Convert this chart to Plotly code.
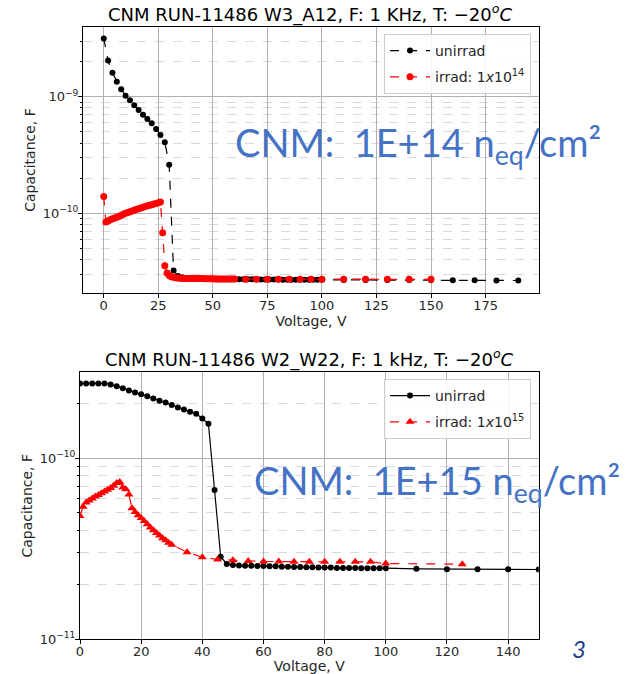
import plotly.graph_objects as go

# ---------------- data: top panel (W3_A12, 1e14) ----------------
top_unirr_v = list(range(0, 101, 2)) + list(range(110, 191, 10))
top_unirr_c = [3.16e-9, 2.04e-9, 1.60e-9, 1.34e-9, 1.16e-9, 1.02e-9, 9.3e-10, 8.43e-10,
               7.69e-10, 7.01e-10, 6.44e-10, 5.91e-10, 5.28e-10, 4.69e-10, 4.06e-10, 2.60e-10,
               3.23e-11, 2.90e-11, 2.82e-11, 2.79e-11, 2.77e-11, 2.76e-11, 2.75e-11, 2.74e-11,
               2.74e-11, 2.73e-11, 2.72e-11, 2.72e-11, 2.72e-11, 2.72e-11, 2.72e-11, 2.71e-11,
               2.71e-11, 2.71e-11, 2.71e-11, 2.71e-11, 2.70e-11, 2.70e-11, 2.70e-11, 2.70e-11,
               2.70e-11, 2.69e-11, 2.69e-11, 2.69e-11, 2.69e-11, 2.69e-11, 2.69e-11, 2.69e-11,
               2.69e-11, 2.69e-11, 2.69e-11,
               2.68e-11, 2.68e-11, 2.67e-11, 2.67e-11, 2.67e-11, 2.66e-11, 2.66e-11, 2.65e-11,
               2.65e-11]

top_irr_v = list(range(0, 61)) + list(range(65, 101, 5)) + list(range(110, 151, 10))
top_irr_c = [1.39e-10, 8.4e-11, 8.6e-11, 8.8e-11, 8.95e-11, 9.1e-11, 9.25e-11, 9.4e-11,
             9.6e-11, 9.8e-11, 1.0e-10, 1.015e-10, 1.03e-10, 1.045e-10, 1.06e-10, 1.08e-10,
             1.095e-10, 1.11e-10, 1.125e-10, 1.14e-10, 1.16e-10, 1.17e-10, 1.185e-10, 1.2e-10,
             1.215e-10, 1.23e-10, 1.25e-10, 6.8e-11, 3.55e-11, 3.08e-11, 2.93e-11, 2.86e-11,
             2.82e-11, 2.80e-11, 2.78e-11, 2.77e-11, 2.76e-11, 2.76e-11, 2.76e-11, 2.76e-11,
             2.76e-11, 2.75e-11, 2.75e-11, 2.75e-11, 2.75e-11, 2.75e-11, 2.74e-11, 2.74e-11,
             2.74e-11, 2.74e-11, 2.74e-11, 2.73e-11, 2.73e-11, 2.73e-11, 2.73e-11, 2.73e-11,
             2.73e-11, 2.73e-11, 2.73e-11, 2.73e-11, 2.73e-11,
             2.72e-11, 2.72e-11, 2.72e-11, 2.72e-11, 2.72e-11, 2.72e-11, 2.72e-11, 2.72e-11,
             2.71e-11, 2.71e-11, 2.71e-11, 2.71e-11, 2.71e-11]

# ---------------- data: bottom panel (W2_W22, 1e15) ----------------
bot_unirr_v = list(range(0, 101, 2)) + list(range(110, 151, 10))
bot_unirr_c = [2.59e-10, 2.59e-10, 2.59e-10, 2.59e-10, 2.59e-10, 2.56e-10, 2.50e-10, 2.44e-10,
               2.37e-10, 2.31e-10, 2.26e-10, 2.20e-10, 2.14e-10, 2.08e-10, 2.03e-10, 1.97e-10,
               1.91e-10, 1.86e-10, 1.81e-10, 1.76e-10, 1.66e-10, 1.55e-10, 6.68e-11, 2.86e-11,
               2.61e-11, 2.57e-11, 2.56e-11, 2.55e-11, 2.55e-11, 2.54e-11, 2.54e-11, 2.53e-11,
               2.53e-11, 2.52e-11, 2.52e-11, 2.51e-11, 2.51e-11, 2.50e-11, 2.50e-11, 2.49e-11,
               2.49e-11, 2.49e-11, 2.48e-11, 2.48e-11, 2.48e-11, 2.48e-11, 2.47e-11, 2.47e-11,
               2.47e-11, 2.47e-11, 2.47e-11,
               2.45e-11, 2.44e-11, 2.44e-11, 2.44e-11, 2.43e-11]

bot_irr_v = list(range(0, 31)) + list(range(35, 101, 5)) + [125, 150]
bot_irr_c = [4.8e-11, 5.4e-11, 5.7e-11, 5.85e-11, 6.0e-11, 6.15e-11, 6.27e-11, 6.4e-11,
             6.55e-11, 6.7e-11, 6.85e-11, 7.05e-11, 7.3e-11, 7.4e-11, 6.9e-11, 6.75e-11,
             6.3e-11, 5.3e-11, 5.05e-11, 4.85e-11, 4.68e-11, 4.5e-11, 4.32e-11, 4.15e-11,
             4.0e-11, 3.87e-11, 3.74e-11, 3.62e-11, 3.52e-11, 3.42e-11, 3.33e-11,
             3.03e-11, 2.84e-11, 2.76e-11, 2.73e-11, 2.71e-11, 2.69e-11, 2.69e-11, 2.68e-11,
             2.68e-11, 2.68e-11, 2.68e-11, 2.68e-11, 2.68e-11,
             2.62e-11, 2.60e-11]

top_xticks = [0, 25, 50, 75, 100, 125, 150, 175]
bot_xticks = [0, 20, 40, 60, 80, 100, 120, 140]
top_yticks = [1e-10, 1e-9]
top_yticktext = ["10<sup>\u221210</sup>", "10<sup>\u22129</sup>"]
bot_yticks = [1e-11, 1e-10]
bot_yticktext = ["10<sup>\u221211</sup>", "10<sup>\u221210</sup>"]
minor_vals = [k * 10.0 ** e for e in (-12, -11, -10, -9) for k in range(2, 10)]

W, H = 625, 674
FONT = "DejaVu Sans"
GRID = "#b0b0b0"
MINOR = "#d9d9d9"


def px(x):
    return x / W


def py(y):
    return 1 - y / H


fig = go.Figure()

fig.add_trace(go.Scatter(x=top_unirr_v, y=top_unirr_c, mode="lines+markers", name="unirrad",
                         line=dict(color="black", width=1.2, dash="dash"), legendgroup="a",
                         marker=dict(color="black", size=6), xaxis="x", yaxis="y", legend="legend"))
fig.add_trace(go.Scatter(x=top_irr_v, y=top_irr_c, mode="lines+markers",
                         name="irrad: 1<i>x</i>10<sup>14</sup>", legendgroup="b",
                         line=dict(color="red", width=1.2, dash="dash"),
                         marker=dict(color="red", size=7), xaxis="x", yaxis="y", legend="legend"))
fig.add_trace(go.Scatter(x=bot_unirr_v, y=bot_unirr_c, mode="lines+markers", name="unirrad",
                         line=dict(color="black", width=1.2), legendgroup="c",
                         marker=dict(color="black", size=6), xaxis="x2", yaxis="y2", legend="legend2"))
fig.add_trace(go.Scatter(x=bot_irr_v, y=bot_irr_c, mode="lines+markers",
                         name="irrad: 1<i>x</i>10<sup>15</sup>", legendgroup="d",
                         line=dict(color="red", width=1.2, dash="dash"),
                         marker=dict(color="red", size=8, symbol="triangle-up"),
                         xaxis="x2", yaxis="y2", legend="legend2"))


def xax(domain, rng, ticks, anchor):
    return dict(domain=domain, range=rng, tickmode="array", tickvals=ticks,
                showgrid=True, gridcolor=GRID, gridwidth=1, zeroline=False,
                showline=True, linecolor="black", linewidth=1, mirror=True,
                ticks="outside", ticklen=4, tickcolor="black", automargin=False,
                ticklabelstandoff=-4,
                tickfont=dict(family=FONT, size=13, color="#262626"),
                title=dict(text="Voltage, V", font=dict(family=FONT, size=14, color="#262626"),
                           standoff=2),
                anchor=anchor)


def yax(domain, rng, ticks, text, anchor):
    return dict(domain=domain, type="log", range=rng, tickmode="array", tickvals=ticks,
                ticktext=text, showgrid=True, gridcolor=GRID, gridwidth=1, zeroline=False,
                showline=True, linecolor="black", linewidth=1, mirror=True,
                ticks="outside", ticklen=4, tickcolor="black", automargin=False,
                ticklabelstandoff=-3,
                tickfont=dict(family=FONT, size=13, color="#262626"),
                minor=dict(tickmode="array", tickvals=minor_vals, showgrid=True,
                           gridcolor=MINOR, griddash="dash", gridwidth=1,
                           ticks="outside", ticklen=2, tickcolor="black"),
                title=dict(text="Capacitance, F", font=dict(family=FONT, size=14, color="#262626"),
                           standoff=3),
                anchor=anchor)


top_dom_x = [px(83), px(539)]
top_dom_y = [py(293), py(27)]
bot_dom_x = [px(80), px(538.7)]
bot_dom_y = [py(639.3), py(372.3)]

legend_common = dict(bgcolor="rgba(255,255,255,0.85)", bordercolor="#cccccc", borderwidth=1,
                     font=dict(family=FONT, size=14, color="#262626"),
                     xanchor="right", yanchor="top", itemwidth=40, tracegroupgap=5)

fig.update_layout(
    width=W, height=H, margin=dict(l=0, r=0, t=0, b=0, autoexpand=False),
    plot_bgcolor="white", paper_bgcolor="white",
    xaxis=xax(top_dom_x, [-9.5, 199.5], top_xticks, "y"),
    yaxis=yax(top_dom_y, [-10.684, -8.4025], top_yticks, top_yticktext, "x"),
    xaxis2=xax(bot_dom_x, [0, 150], bot_xticks, "y2"),
    yaxis2=yax(bot_dom_y, [-11, -9.525], bot_yticks, bot_yticktext, "x2"),
    legend=dict(x=px(531), y=py(34), **legend_common),
    legend2=dict(x=px(531), y=py(379), **legend_common),
    showlegend=True,
)

annots = [
    dict(text="CNM RUN-11486 W3_A12, F: 1 KHz, T: \u221220<sup><i>o</i></sup><i>C</i>",
         x=px(310), y=py(13), font=dict(family=FONT, size=18, color="black")),
    dict(text="CNM RUN-11486 W2_W22, F: 1 kHz, T: \u221220<sup><i>o</i></sup><i>C</i>",
         x=px(309), y=py(358), font=dict(family=FONT, size=18, color="black")),
    dict(text="CNM:&nbsp; 1E+14 n<sub>eq</sub>/cm\u00b2",
         x=px(418), y=py(145), font=dict(family="Lato", size=38, color="#4472C4")),
    dict(text="CNM:&nbsp; 1E+15 n<sub>eq</sub>/cm\u00b2",
         x=px(437), y=py(483), font=dict(family="Lato", size=38, color="#4472C4")),
    dict(text="<i>3</i>", x=px(579), y=py(648),
         font=dict(family="Lato", size=24, color="#1F3C88")),
]
for a in annots:
    fig.add_annotation(xref="paper", yref="paper", xanchor="center", yanchor="middle",
                       showarrow=False, **a)

fig.write_html("out.html", config={"displayModeBar": False},
               post_script="document.body.style.margin='0';")
